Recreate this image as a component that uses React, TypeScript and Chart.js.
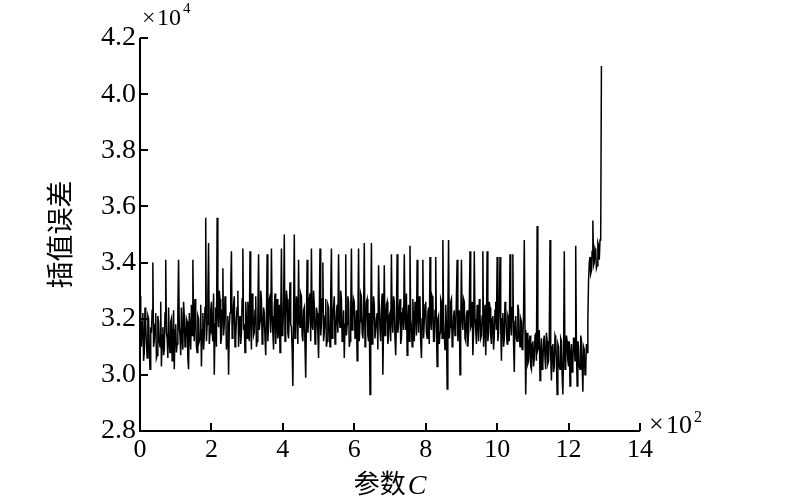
import React, { useEffect, useRef } from "react";
import { Chart, registerables } from "chart.js";

Chart.register(...registerables);

// Parameter C sampled every 2 units (x axis shown in units of 10^2)
const C_STEP = 2;

// Interpolation error, in units of 10^4
const errorValues: number[] = [
  // C = 0 .. 98
  3.28, 3.14, 3.10, 3.19, 3.22, 3.05, 3.08, 3.24, 3.18, 3.11, 3.06, 3.21, 3.20, 3.09, 3.02, 3.17, 3.15, 3.23, 3.40, 3.10, 3.12, 3.18, 3.22, 3.06, 3.07,
  3.21, 3.19, 3.12, 3.10, 3.26, 3.03, 3.14, 3.17, 3.07, 3.09, 3.22, 3.41, 3.15, 3.13, 3.06, 3.24, 3.12, 3.08, 3.19, 3.20, 3.05, 3.11, 3.23, 3.02, 3.16,
  // C = 100 .. 198
  3.18, 3.08, 3.11, 3.23, 3.41, 3.17, 3.14, 3.07, 3.24, 3.13, 3.09, 3.26, 3.21, 3.10, 3.12, 3.20, 3.19, 3.06, 3.02, 3.22, 3.16, 3.09, 3.25, 3.14, 3.41,
  3.19, 3.12, 3.27, 3.22, 3.10, 3.08, 3.21, 3.20, 3.12, 3.13, 3.25, 3.03, 3.16, 3.22, 3.09, 3.14, 3.24, 3.56, 3.12, 3.18, 3.28, 3.47, 3.11, 3.15, 3.23,
  // C = 200 .. 298
  3.26, 3.15, 3.12, 3.29, 3.00, 3.18, 3.24, 3.10, 3.56, 3.22, 3.17, 3.30, 3.27, 3.11, 3.13, 3.23, 3.38, 3.14, 3.18, 3.28, 3.26, 3.09, 3.12, 3.21, 3.00,
  3.17, 3.22, 3.31, 3.44, 3.13, 3.16, 3.25, 3.28, 3.10, 3.13, 3.20, 3.24, 3.30, 3.10, 3.19, 3.21, 3.11, 3.15, 3.27, 3.45, 3.16, 3.18, 3.08, 3.26, 3.20,
  // C = 300 .. 398
  3.13, 3.26, 3.22, 3.12, 3.44, 3.20, 3.09, 3.29, 3.25, 3.14, 3.15, 3.23, 3.28, 3.10, 3.12, 3.21, 3.43, 3.16, 3.19, 3.30, 3.27, 3.11, 3.14, 3.24, 3.22,
  3.13, 3.07, 3.20, 3.43, 3.12, 3.18, 3.27, 3.28, 3.15, 3.45, 3.21, 3.15, 3.09, 3.24, 3.29, 3.11, 3.18, 3.27, 3.13, 3.16, 3.25, 3.08, 3.19, 3.45, 3.14,
  // C = 400 .. 498
  3.16, 3.24, 3.50, 3.12, 3.20, 3.30, 3.27, 3.15, 3.13, 3.22, 3.33, 3.18, 3.17, 3.09, 2.96, 3.21, 3.50, 3.13, 3.15, 3.28, 3.26, 3.11, 3.41, 3.19, 3.17,
  3.29, 3.28, 3.14, 3.12, 3.23, 3.24, 3.10, 2.99, 3.20, 3.41, 3.15, 3.19, 3.27, 3.29, 3.12, 3.45, 3.18, 3.16, 3.30, 3.25, 3.11, 3.13, 3.24, 3.22, 3.15,
  // C = 500 .. 598
  3.06, 3.22, 3.45, 3.14, 3.18, 3.27, 3.40, 3.12, 3.15, 3.21, 3.27, 3.10, 3.12, 3.25, 3.24, 3.16, 3.10, 3.29, 3.45, 3.13, 3.19, 3.24, 3.28, 3.11, 3.14,
  3.22, 3.25, 3.15, 3.43, 3.20, 3.17, 3.30, 3.27, 3.12, 3.13, 3.23, 3.06, 3.18, 3.43, 3.14, 3.18, 3.28, 3.26, 3.10, 3.12, 3.21, 3.45, 3.16, 3.20, 3.27,
  // C = 600 .. 698
  3.26, 3.13, 3.14, 3.23, 3.05, 3.19, 3.45, 3.12, 3.19, 3.29, 3.28, 3.15, 3.13, 3.21, 3.47, 3.10, 3.18, 3.26, 3.27, 3.14, 3.12, 3.22, 2.93, 3.18, 3.47,
  3.11, 3.17, 3.28, 3.25, 3.13, 3.13, 3.20, 3.22, 3.09, 3.39, 3.24, 3.16, 3.12, 3.24, 3.29, 3.00, 3.17, 3.39, 3.14, 3.18, 3.25, 3.26, 3.11, 3.14, 3.21,
  // C = 700 .. 798
  3.22, 3.12, 3.43, 3.19, 3.15, 3.28, 3.26, 3.13, 3.07, 3.20, 3.43, 3.15, 3.18, 3.24, 3.27, 3.11, 3.13, 3.22, 3.24, 3.16, 3.43, 3.21, 3.16, 3.29, 3.07,
  3.18, 3.25, 3.12, 3.46, 3.20, 3.17, 3.10, 3.27, 3.19, 3.12, 3.26, 3.23, 3.14, 3.41, 3.21, 3.15, 3.28, 3.26, 3.12, 3.06, 3.20, 3.41, 3.13, 3.19, 3.25,
  // C = 800 .. 898
  3.26, 3.15, 3.13, 3.22, 3.24, 3.11, 3.42, 3.19, 3.16, 3.28, 3.27, 3.12, 3.12, 3.23, 3.42, 3.16, 3.03, 3.20, 3.21, 3.11, 3.15, 3.27, 3.26, 3.13, 3.48,
  3.20, 3.14, 3.09, 3.25, 3.18, 2.95, 3.22, 3.48, 3.13, 3.17, 3.26, 3.27, 3.10, 3.12, 3.21, 3.23, 3.14, 3.15, 3.28, 3.41, 3.12, 3.18, 3.23, 3.00, 3.16,
  // C = 900 .. 998
  3.41, 3.20, 3.16, 3.27, 3.26, 3.13, 3.12, 3.21, 3.23, 3.10, 3.15, 3.24, 3.44, 3.17, 3.18, 3.26, 3.07, 3.15, 3.44, 3.20, 3.16, 3.11, 3.25, 3.19, 3.12,
  3.27, 3.22, 3.13, 3.14, 3.21, 3.44, 3.10, 3.17, 3.25, 3.07, 3.18, 3.44, 3.12, 3.15, 3.26, 3.24, 3.14, 3.11, 3.20, 3.21, 3.09, 3.14, 3.23, 3.26, 3.16,
  // C = 1000 .. 1098
  3.42, 3.12, 3.15, 3.25, 3.42, 3.18, 3.05, 3.20, 3.22, 3.10, 3.13, 3.26, 3.24, 3.15, 3.11, 3.21, 3.20, 3.12, 3.43, 3.18, 3.14, 3.24, 3.43, 3.11, 3.01,
  3.19, 3.21, 3.13, 3.12, 3.25, 3.23, 3.14, 3.10, 3.20, 3.19, 3.09, 3.13, 3.22, 3.48, 3.16, 2.93, 3.09, 3.15, 3.04, 3.05, 3.12, 3.14, 3.03, 3.02, 3.11,
  // C = 1100 .. 1198
  3.12, 3.03, 3.06, 3.14, 3.15, 3.05, 3.53, 3.09, 3.10, 3.16, 2.98, 3.07, 3.13, 3.02, 3.04, 3.12, 3.14, 3.06, 3.02, 3.15, 3.12, 3.04, 3.05, 3.13, 3.48,
  3.07, 2.98, 3.10, 3.11, 3.01, 3.03, 3.14, 3.13, 3.05, 2.93, 3.11, 3.10, 3.03, 3.02, 3.13, 3.12, 3.00, 2.93, 3.08, 3.44, 3.02, 3.04, 3.14, 3.12, 3.05,
  // C = 1200 .. 1292
  3.03, 3.12, 2.96, 3.07, 3.11, 3.01, 3.04, 3.13, 3.13, 3.05, 3.46, 3.10, 2.96, 3.12, 3.10, 3.03, 3.02, 3.14, 3.12, 3.04, 2.94, 3.10, 3.09, 3.00, 3.01,
  3.11, 3.08, 3.20, 3.34, 3.40, 3.42, 3.36, 3.37, 3.44, 3.55, 3.39, 3.40, 3.45, 3.44, 3.38, 3.39, 3.47, 3.46, 3.41, 3.48, 3.50, 4.10,
];

const xTickValues = [0, 2, 4, 6, 8, 10, 12, 14];
const yTickValues = [2.8, 3.0, 3.2, 3.4, 3.6, 3.8, 4.0, 4.2];

const xTitleText = "参数";
const xTitleVar = "C";
const yTitleText = "插值误差";
const yMultiplier = { base: "×10", exp: "4" };
const xMultiplier = { base: "×10", exp: "2" };

const SERIF = '"Liberation Serif", "Times New Roman", serif';
const CJK = '"Noto Sans CJK SC", sans-serif';

const decorPlugin = {
  id: "decor",
  afterDraw(chart: any) {
    const ctx = chart.ctx;
    const { left, right, top, bottom } = chart.chartArea;
    const xs = chart.scales.x;
    const ys = chart.scales.y;
    ctx.save();
    ctx.strokeStyle = "#000";
    ctx.fillStyle = "#000";
    ctx.lineWidth = 2;
    ctx.lineCap = "butt";
    // axes
    ctx.beginPath();
    ctx.moveTo(left, top);
    ctx.lineTo(left, bottom);
    ctx.lineTo(right, bottom);
    ctx.stroke();
    // inward ticks
    const tl = 8;
    ctx.beginPath();
    for (const v of xTickValues) {
      if (v === 0) continue;
      const px = Math.round(xs.getPixelForValue(v));
      ctx.moveTo(px, bottom);
      ctx.lineTo(px, bottom - tl);
    }
    for (const v of yTickValues) {
      if (v === 2.8) continue;
      const py = Math.round(ys.getPixelForValue(v));
      ctx.moveTo(left, py);
      ctx.lineTo(left + tl, py);
    }
    ctx.stroke();

    // multipliers
    ctx.textAlign = "left";
    ctx.textBaseline = "alphabetic";
    ctx.font = `24px ${SERIF}`;
    ctx.fillText("×", left + 2, 25);
    ctx.fillText("10", left + 17, 25);
    ctx.font = `15px ${SERIF}`;
    ctx.fillText(yMultiplier.exp, left + 43, 13);

    ctx.font = `26px ${SERIF}`;
    ctx.fillText("×", right + 9, 432);
    ctx.fillText("10", right + 26, 433);
    ctx.font = `16px ${SERIF}`;
    ctx.fillText(xMultiplier.exp, right + 54, 422);

    // x title
    ctx.font = `26px ${CJK}`;
    const w1 = ctx.measureText(xTitleText).width;
    ctx.font = `italic 28px ${SERIF}`;
    const w2 = ctx.measureText(xTitleVar).width;
    const cx = (left + right) / 2;
    const sx = cx - (w1 + w2 + 2) / 2;
    ctx.font = `26px ${CJK}`;
    ctx.fillText(xTitleText, sx, 493);
    ctx.font = `italic 28px ${SERIF}`;
    ctx.fillText(xTitleVar, sx + w1 + 2, 494);

    // y title
    ctx.translate(60, (top + bottom) / 2);
    ctx.rotate(-Math.PI / 2);
    ctx.font = `27px ${CJK}`;
    ctx.textAlign = "center";
    ctx.textBaseline = "middle";
    ctx.fillText(yTitleText, 0, 0);
    ctx.restore();
  },
};

export default function App() {
  const ref = useRef<HTMLCanvasElement>(null);
  useEffect(() => {
    document.body.style.margin = "0";
    const canvas = ref.current;
    if (!canvas) return;
    const points = errorValues.map((v, i) => ({ x: (i * C_STEP) / 100, y: v }));
    const chart = new Chart(canvas, {
      type: "line",
      data: {
        datasets: [
          {
            data: points,
            borderColor: "#000",
            borderWidth: 1.5,
            pointRadius: 0,
            tension: 0,
            fill: false,
          },
        ],
      },
      options: {
        animation: false,
        responsive: false,
        events: [],
        layout: { padding: { left: 0, top: 38, right: 160, bottom: 0 } },
        plugins: { legend: { display: false }, tooltip: { enabled: false } },
        scales: {
          x: {
            type: "linear",
            min: 0,
            max: 14,
            afterBuildTicks: (s: any) => {
              s.ticks = xTickValues.map((v) => ({ value: v }));
            },
            afterFit: (s: any) => {
              s.height = 71;
            },
            grid: { display: false, drawTicks: false },
            border: { display: false },
            ticks: {
              color: "#000",
              font: { family: SERIF, size: 26 },
              padding: 4,
              maxRotation: 0,
              autoSkip: false,
              callback: (v: any) => String(v),
            },
          },
          y: {
            type: "linear",
            min: 2.8,
            max: 4.2,
            afterBuildTicks: (s: any) => {
              s.ticks = yTickValues.map((v) => ({ value: v }));
            },
            afterFit: (s: any) => {
              s.width = 140;
            },
            grid: { display: false, drawTicks: false },
            border: { display: false },
            ticks: {
              color: "#000",
              font: { family: SERIF, size: 28 },
              padding: 4,
              autoSkip: false,
              callback: (v: any) => Number(v).toFixed(1),
            },
          },
        },
      },
      plugins: [decorPlugin],
    });
    return () => chart.destroy();
  }, []);
  return (
    <canvas
      ref={ref}
      width={800}
      height={502}
      style={{ display: "block", position: "absolute", left: 0, top: 0, width: 800, height: 502 }}
    />
  );
}
